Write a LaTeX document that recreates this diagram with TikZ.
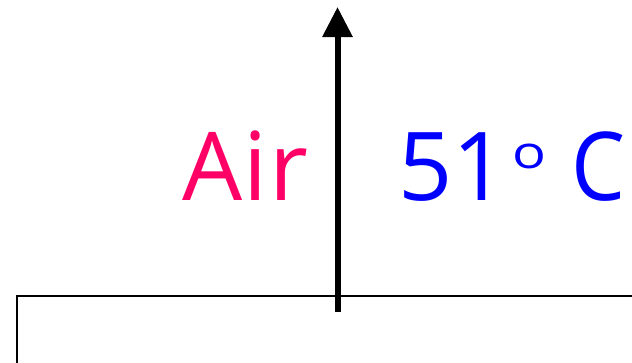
\documentclass[tikz,border=0pt]{standalone}
\usepackage{xcolor}
\usepackage{fontspec}
\setmainfont{Open Sans}
\usetikzlibrary{arrows.meta}
\usetikzlibrary{positioning}
\definecolor{airpink}{HTML}{FF0066}
\definecolor{tempblue}{HTML}{0000FF}

\begin{document}
\begin{tikzpicture}[
  x=1pt, y=-1pt,
  every node/.style={inner sep=0pt, font=\fontsize{95}{100}\selectfont},
  flow/.style={line width=6pt, -{Triangle[length=30pt,width=29pt]}},
  outline/.style={line width=1.7pt}
]
\useasboundingbox (0,0) rectangle (632,362);
\clip (0,0) rectangle (632,362);
\draw[outline] (17,380) |- (660,296);
\coordinate (src) at (337.5,312);
\coordinate (dst) at (337.5,7);
\draw[flow] (src) -- (dst);
\node[text=airpink, anchor=base east] (air) at (308,200)
  {A\kern1pt i\kern1pt r};
\node[text=tempblue, anchor=base west] (temp) at (398,200)
  {51\kern6pt\raisebox{32pt}{\fontsize{45}{48}\selectfont\scalebox{1.25}[1]{o}}\hspace{25pt}\scalebox{0.9}[1]{C}};
\end{tikzpicture}
\end{document}
